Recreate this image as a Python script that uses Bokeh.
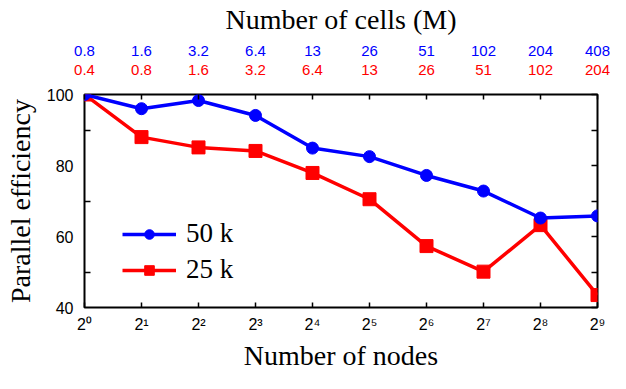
from bokeh.plotting import figure
from bokeh.models import (LogAxis, LinearAxis, FixedTicker, Range1d, Legend, LegendItem)
from bokeh.embed import file_html
from bokeh.resources import INLINE

# ---- data ----
nodes = [1, 2, 4, 8, 16, 32, 64, 128, 256, 512]
node_labels = ["2⁰", "2¹", "2²", "2³", "2⁴", "2⁵", "2⁶", "2⁷", "2⁸", "2⁹"]
eff_50k = [100.0, 96.0, 98.3, 94.1, 84.9, 82.5, 77.2, 72.8, 65.2, 65.8]
eff_25k = [100.0, 88.0, 85.1, 84.1, 77.9, 70.5, 57.3, 50.1, 63.2, 43.5]
cells_50k = ["0.8", "1.6", "3.2", "6.4", "13", "26", "51", "102", "204", "408"]
cells_25k = ["0.4", "0.8", "1.6", "3.2", "6.4", "13", "26", "51", "102", "204"]
y_major = [40, 60, 80, 100]
y_minor = [50, 70, 90]
y_all = [40, 50, 60, 70, 80, 90, 100]

BLUE = "#0000ff"
RED = "#ff0000"
SERIF = "Liberation Serif"
SANS = "Liberation Sans"

p = figure(width=610, height=373, x_axis_type="log",
           x_range=Range1d(1, 512), y_range=Range1d(40, 100),
           output_backend="svg", toolbar_location=None,
           min_border_left=84, min_border_right=13, min_border_top=94, min_border_bottom=64)
p.xgrid.visible = False
p.ygrid.visible = False
p.outline_line_color = "black"
p.outline_line_width = 2
p.background_fill_color = "white"
p.border_fill_color = "white"

# bottom axis
xa = p.xaxis[0]
xa.ticker = FixedTicker(ticks=nodes, minor_ticks=[])
xa.major_label_overrides = {n: s for n, s in zip(nodes, node_labels)}
xa.major_tick_in = 5
xa.major_tick_out = 0
xa.minor_tick_in = 0
xa.minor_tick_out = 0
xa.axis_line_color = None
xa.major_tick_line_color = "black"
xa.major_tick_line_width = 1.5
xa.major_label_text_font = SANS
xa.major_label_text_font_size = "16px"
xa.major_label_text_color = "black"
xa.major_label_standoff = 8
xa.axis_label = "Number of nodes"
xa.axis_label_text_font = SERIF
xa.axis_label_text_font_style = "normal"
xa.axis_label_text_font_size = "28px"
xa.axis_label_text_color = "black"
xa.axis_label_standoff = 4

# left axis
ya = p.yaxis[0]
ya.ticker = FixedTicker(ticks=y_major, minor_ticks=y_minor)
ya.major_tick_in = 0
ya.major_tick_out = 0
ya.minor_tick_in = 6
ya.minor_tick_out = 0
ya.minor_tick_line_color = "black"
ya.minor_tick_line_width = 1.5
ya.axis_line_color = None
ya.major_label_text_font = SANS
ya.major_label_text_font_size = "16px"
ya.major_label_text_color = "black"
ya.major_label_standoff = 11
ya.axis_label = "Parallel efficiency"
ya.axis_label_text_font = SERIF
ya.axis_label_text_font_style = "normal"
ya.axis_label_text_font_size = "28px"
ya.axis_label_text_color = "black"
ya.axis_label_standoff = 8

# right axis (ticks only)
ra = LinearAxis(ticker=FixedTicker(ticks=y_all, minor_ticks=[]),
                major_label_overrides={v: "" for v in y_all},
                major_tick_in=6, major_tick_out=0, major_label_standoff=0,
                axis_line_color=None, major_tick_line_width=1.5,
                major_tick_line_color="black",
                major_label_text_font_size="1px")
p.add_layout(ra, "right")

# top axes: 25 k cells (closest), 50 k cells above
top_red = LogAxis(ticker=FixedTicker(ticks=nodes, minor_ticks=[]),
                  major_label_overrides={n: c for n, c in zip(nodes, cells_25k)},
                  major_tick_in=5, major_tick_out=0, major_tick_line_width=1.5,
                  major_tick_line_color="black", axis_line_color=None,
                  major_label_text_font=SANS, major_label_text_font_size="15px",
                  major_label_text_color=RED, major_label_standoff=20)
p.add_layout(top_red, "above")
top_blue = LogAxis(ticker=FixedTicker(ticks=nodes, minor_ticks=[]),
                   major_label_overrides={n: c for n, c in zip(nodes, cells_50k)},
                   major_tick_in=0, major_tick_out=0, axis_line_color=None,
                   major_label_text_font=SANS, major_label_text_font_size="15px",
                   major_label_text_color=BLUE, major_label_standoff=6,
                   axis_label="Number of cells (M)", axis_label_text_font=SERIF,
                   axis_label_text_font_style="normal", axis_label_text_font_size="28px",
                   axis_label_text_color="black", axis_label_standoff=8)
p.add_layout(top_blue, "above")

# data series (red first so blue is drawn on top)
r_line = p.line(nodes, eff_25k, line_color=RED, line_width=3.5)
r_pts = p.scatter(nodes, eff_25k, marker="square", size=13, fill_color=RED, line_color=RED)
b_line = p.line(nodes, eff_50k, line_color=BLUE, line_width=3.5)
b_pts = p.scatter(nodes, eff_50k, marker="circle", size=12, fill_color=BLUE, line_color=BLUE)

legend = Legend(items=[LegendItem(label="50 k", renderers=[b_line, b_pts]),
                       LegendItem(label="25 k", renderers=[r_line, r_pts])],
                location=(38, 22), orientation="vertical",
                glyph_width=54, glyph_height=24, label_standoff=10, spacing=5,
                padding=0, margin=0, border_line_color=None, background_fill_alpha=0,
                label_text_font=SERIF, label_text_font_size="27px",
                label_text_color="black", label_height=30)
p.add_layout(legend, "center")

open("out.html", "w").write(file_html(p, INLINE))
